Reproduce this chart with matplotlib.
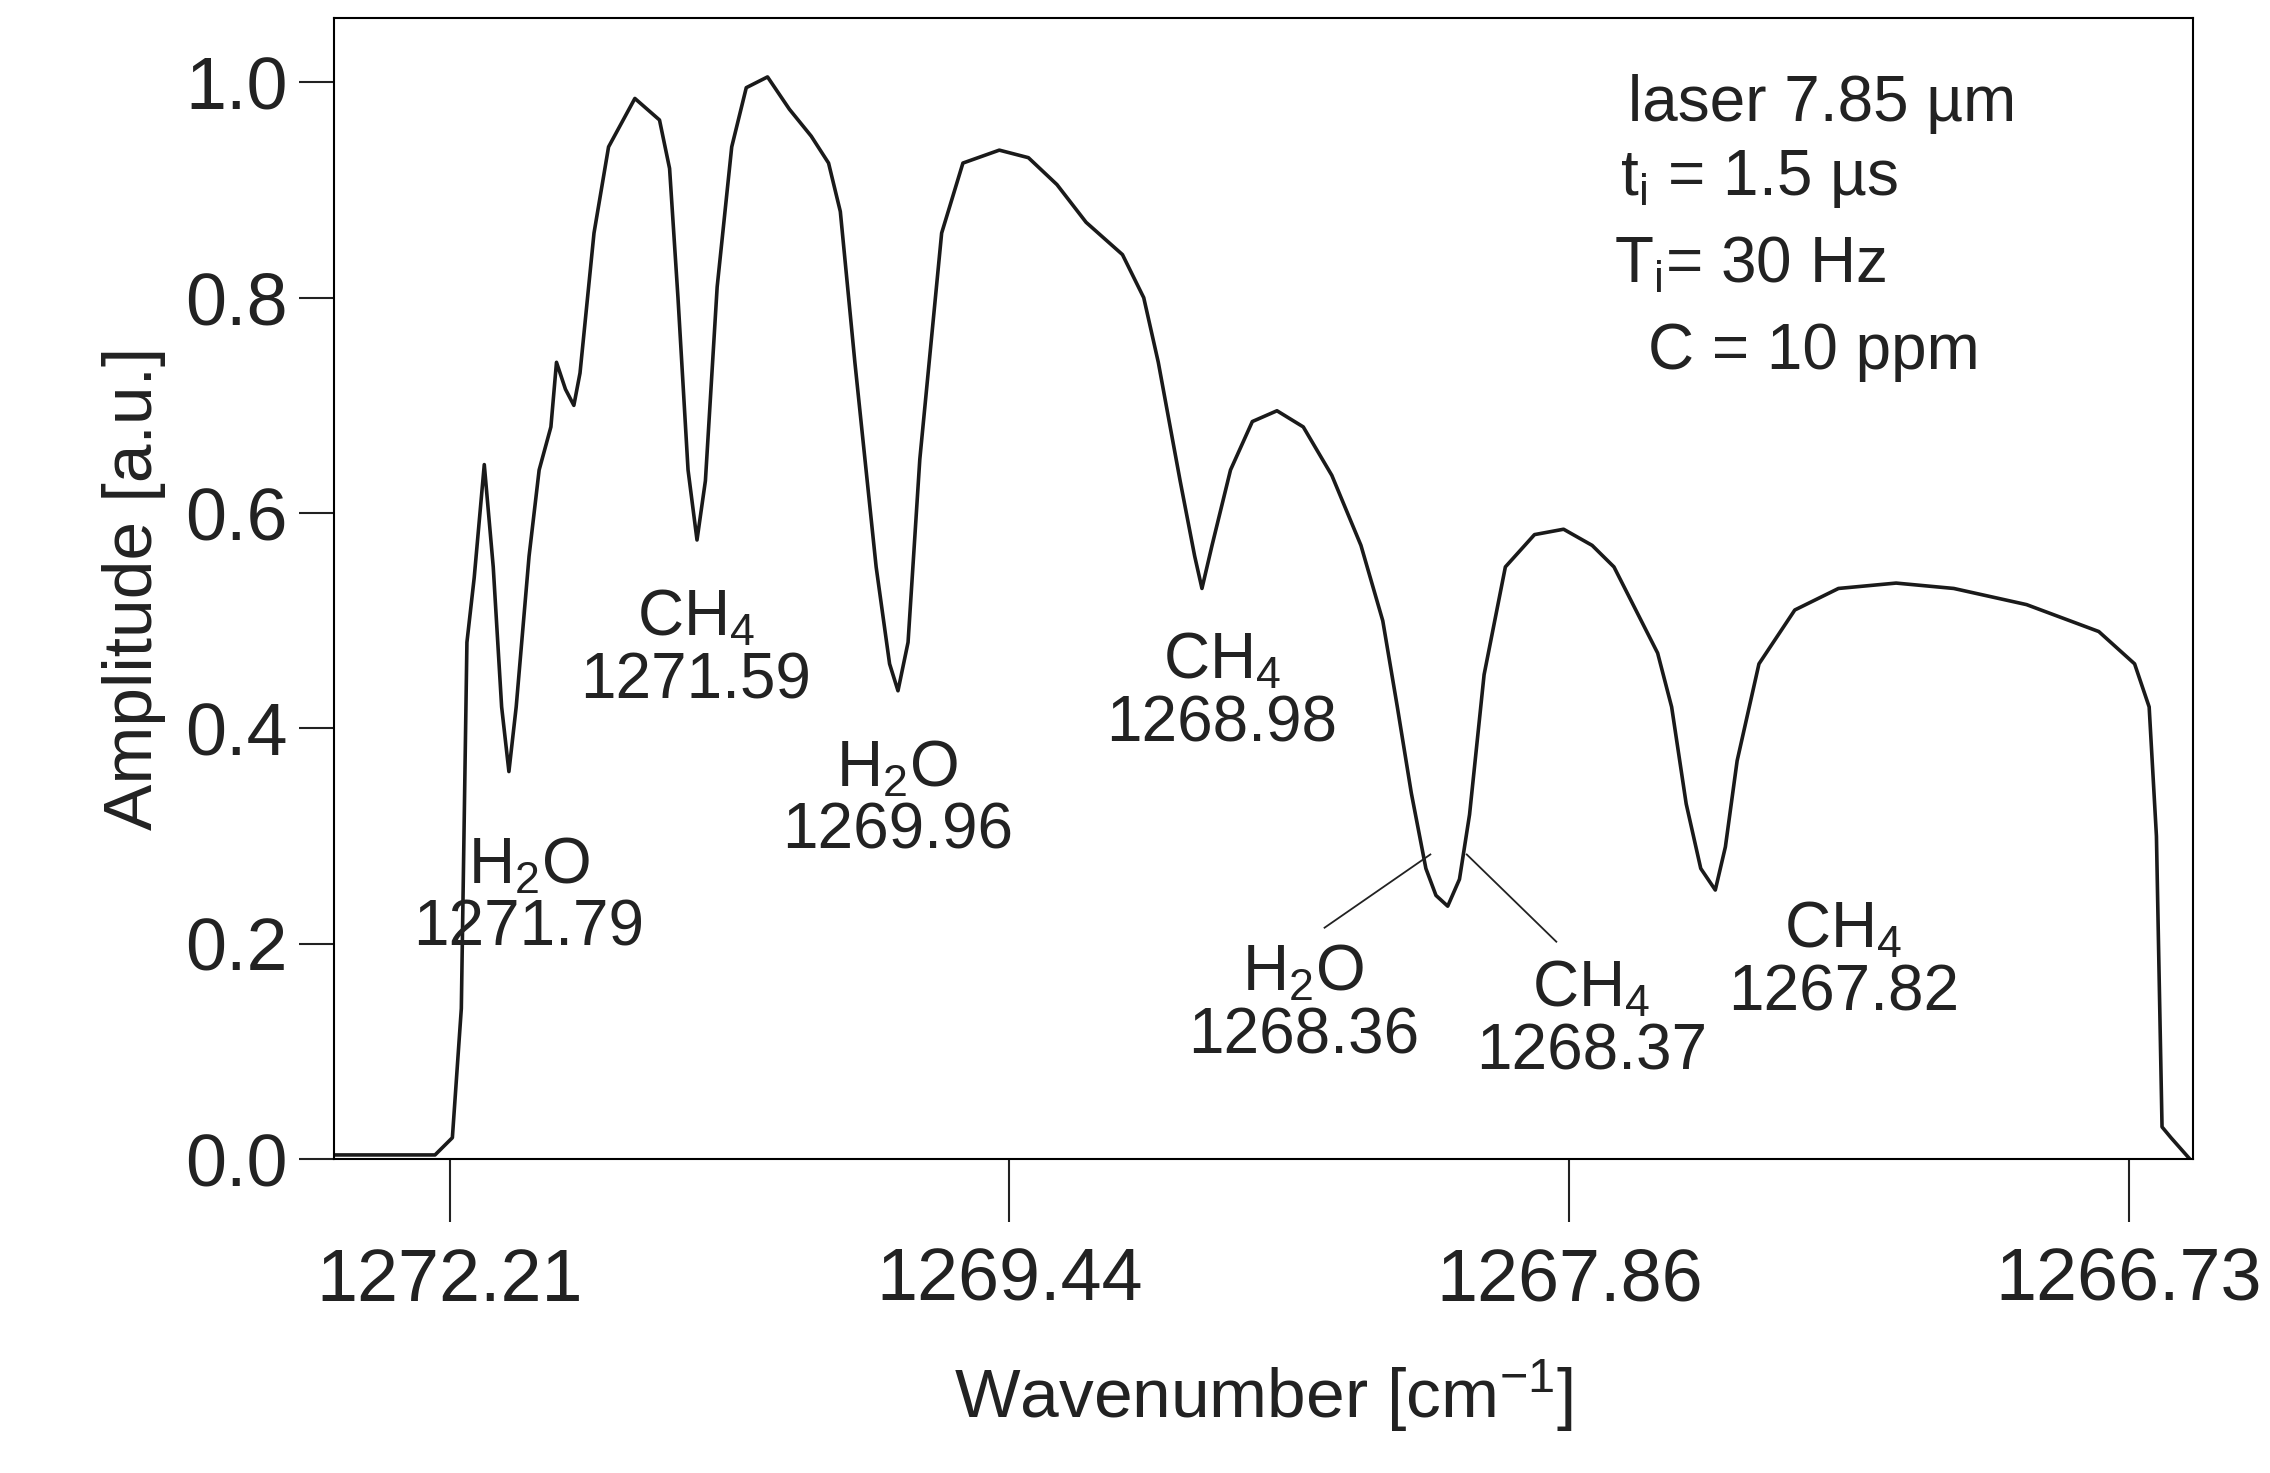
import matplotlib
matplotlib.use("Agg")
import matplotlib.pyplot as plt

plt.rcParams['font.family'] = ['Liberation Sans', 'DejaVu Sans']
plt.rcParams['mathtext.fontset'] = 'custom'
plt.rcParams['mathtext.rm'] = 'Liberation Sans'
plt.rcParams['mathtext.it'] = 'Liberation Sans'

# position along the (non-linear) wavenumber scale, in tick units
pos = [-0.202,-0.026,0.005,0.021,0.031,0.044,0.062,0.078,0.093,0.106,0.119,0.142,0.160,0.181,0.191,0.207,0.222,0.233,
       0.258,0.284,0.331,0.375,0.393,0.408,0.426,0.442,0.457,0.478,0.504,0.530,0.568,0.607,0.646,0.677,0.698,0.724,
       0.762,0.786,0.801,0.819,0.840,0.879,0.917,0.982,1.034,1.085,1.137,1.202,1.240,1.266,1.305,1.331,1.344,1.362,
       1.395,1.434,1.478,1.525,1.576,1.628,1.667,1.693,1.718,1.744,1.762,1.783,1.804,1.822,1.848,1.886,1.938,1.990,
       2.041,2.080,2.119,2.158,2.183,2.209,2.235,2.261,2.279,2.300,2.339,2.403,2.481,2.584,2.687,2.817,2.946,3.010,
       3.036,3.049,3.059,3.075,3.109]
amp = [0.004,0.004,0.02,0.14,0.48,0.54,0.645,0.55,0.42,0.36,0.42,0.56,0.64,0.68,0.74,0.715,0.70,0.73,
       0.86,0.94,0.985,0.965,0.92,0.80,0.64,0.575,0.63,0.81,0.94,0.995,1.005,0.975,0.95,0.925,0.88,0.74,
       0.55,0.46,0.435,0.48,0.65,0.86,0.925,0.937,0.93,0.905,0.87,0.84,0.80,0.74,0.63,0.56,0.53,0.57,
       0.64,0.685,0.695,0.68,0.635,0.57,0.50,0.42,0.34,0.27,0.245,0.235,0.26,0.32,0.45,0.55,0.58,0.585,
       0.57,0.55,0.51,0.47,0.42,0.33,0.27,0.25,0.29,0.37,0.46,0.51,0.53,0.535,0.53,0.515,0.49,0.46,
       0.42,0.30,0.03,0.02,0.0]

tick_pos = [0, 1, 2, 3]
tick_labels = ['1272.21', '1269.44', '1267.86', '1266.73']
y_ticks = [0.0, 0.2, 0.4, 0.6, 0.8, 1.0]

fig = plt.figure(figsize=(22.7, 14.73), dpi=100)
ax = fig.add_axes([0.147, 0.213, 0.819, 0.775])
ax.plot(pos, amp, color='#1a1a1a', lw=2.6, solid_joinstyle='round')
ax.set_xlim(-0.207, 3.114)
ax.set_ylim(0, 1.06)
ax.set_xticks(tick_pos)
ax.set_xticklabels(tick_labels)
ax.set_yticks(y_ticks)
ax.set_yticklabels([f'{v:.1f}' for v in y_ticks])
ax.tick_params(axis='x', length=45, width=1.5, pad=18, labelsize=53, colors='#222222')
ax.tick_params(axis='y', length=25, width=1.5, pad=8, labelsize=53, colors='#222222')
for s in ax.spines.values():
    s.set_linewidth(1.5)
ax.set_xlabel('Wavenumber [cm$^{-1}$]', fontsize=50, labelpad=30, color='#222222')
ax.set_ylabel('Amplitude [a.u.]', fontsize=50, labelpad=14, color='#222222')

fs = 46
ann = [(0.142, 0.30, 'H$_2$O\n1271.79'), (0.44, 0.53, 'CH$_4$\n1271.59'),
       (0.80, 0.39, 'H$_2$O\n1269.96'), (1.38, 0.49, 'CH$_4$\n1268.98'),
       (1.525, 0.20, 'H$_2$O\n1268.36'), (2.04, 0.185, 'CH$_4$\n1268.37'),
       (2.49, 0.24, 'CH$_4$\n1267.82')]
for x, y, t in ann:
    ax.text(x, y, t, fontsize=fs, ha='center', va='top', linespacing=1.05, color='#222222')
ax.plot([1.563, 1.752], [0.215, 0.283], color='#222222', lw=1.3)
ax.plot([1.817, 1.977], [0.283, 0.202], color='#222222', lw=1.3)

ax.text(2.105, 0.98, 'laser 7.85 µm', fontsize=fs, va='center', color='#222222')
ax.text(2.09, 0.91, 't$_\\mathregular{i}$ = 1.5 µs', fontsize=fs, va='center', color='#222222')
ax.text(2.08, 0.83, 'T$_\\mathregular{i}$= 30 Hz', fontsize=fs, va='center', color='#222222')
ax.text(2.14, 0.75, 'C = 10 ppm', fontsize=fs, va='center', color='#222222')

fig.savefig('out.png', dpi=100, facecolor='white')
